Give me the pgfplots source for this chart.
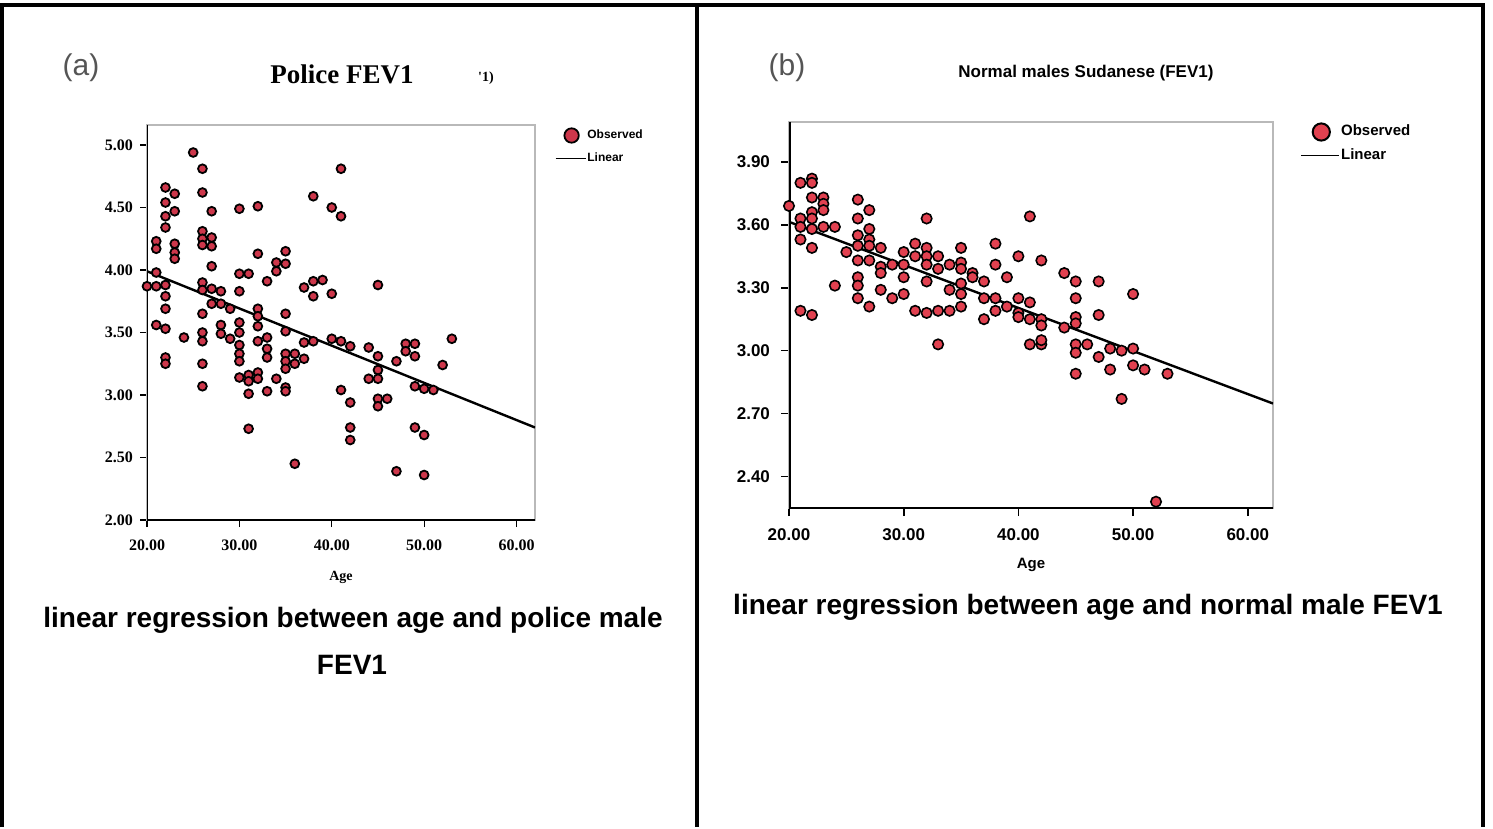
\documentclass[border=0pt]{standalone}
\usepackage{pgfplots}
\pgfplotsset{compat=1.18}
\usepackage{fontspec}
\setmainfont{Liberation Sans}
\newfontfamily\serifb{Liberation Serif}
\definecolor{ptred}{RGB}{205,55,75}
\definecolor{ptred2}{RGB}{225,65,80}
\definecolor{lbl}{RGB}{85,85,85}

\pgfplotstableread{
age fev
25 4.94
26 4.81
22 4.66
23 4.61
26 4.62
22 4.54
23 4.47
27 4.47
22 4.43
22 4.34
30 4.49
32 4.51
38 4.59
40 4.50
41 4.81
41 4.43
21 4.23
21 4.17
23 4.21
23 4.14
23 4.09
26 4.31
26 4.25
26 4.20
27 4.26
27 4.19
27 4.03
32 4.13
35 4.15
35 4.05
34 4.06
34 3.99
30 3.97
31 3.97
33 3.91
37 3.86
38 3.91
39 3.92
38 3.79
40 3.81
20 3.87
21 3.87
22 3.88
21 3.98
22 3.79
22 3.69
26 3.90
26 3.84
27 3.85
28 3.83
30 3.83
27 3.73
28 3.73
29 3.69
26 3.65
32 3.69
32 3.63
35 3.65
21 3.56
22 3.53
24 3.46
26 3.50
26 3.43
28 3.56
28 3.49
29 3.45
30 3.58
30 3.50
30 3.40
30 3.33
30 3.27
32 3.55
35 3.51
32 3.43
33 3.46
33 3.37
33 3.30
34 3.13
35 3.33
36 3.33
35 3.27
36 3.25
37 3.29
35 3.21
37 3.42
38 3.43
40 3.45
41 3.43
22 3.30
22 3.25
26 3.25
26 3.07
30 3.14
31 3.16
32 3.18
31 3.11
32 3.13
31 3.01
33 3.03
35 3.06
35 3.03
41 3.04
31 2.73
36 2.45
45 3.88
42 3.39
44 3.38
45 3.31
45 3.20
45 3.13
44 3.13
47 3.27
48 3.41
49 3.41
48 3.35
49 3.31
53 3.45
52 3.24
49 3.07
50 3.05
51 3.04
42 2.94
45 2.97
46 2.97
45 2.91
42 2.74
42 2.64
49 2.74
50 2.68
47 2.39
50 2.36
}\policedata

\pgfplotstableread{
age fev
20 3.69
21 3.80
22 3.82
22 3.80
22 3.73
23 3.73
23 3.70
23 3.67
22 3.66
21 3.63
21 3.59
21 3.53
22 3.63
22 3.58
22 3.49
23 3.59
24 3.59
24 3.31
21 3.19
22 3.17
26 3.72
27 3.67
26 3.63
26 3.55
27 3.58
27 3.53
26 3.50
27 3.50
25 3.47
26 3.43
27 3.43
28 3.49
26 3.35
26 3.31
26 3.25
27 3.21
28 3.40
28 3.37
28 3.29
29 3.41
29 3.25
30 3.47
30 3.41
30 3.35
30 3.27
31 3.51
31 3.45
32 3.63
32 3.49
32 3.45
32 3.41
32 3.33
33 3.45
33 3.39
34 3.41
34 3.29
35 3.49
35 3.42
35 3.39
35 3.32
35 3.27
36 3.37
36 3.35
37 3.33
38 3.51
38 3.41
39 3.35
40 3.45
41 3.64
31 3.19
32 3.18
33 3.19
34 3.19
35 3.21
37 3.25
38 3.25
39 3.21
40 3.25
40 3.18
41 3.23
33 3.03
37 3.15
38 3.19
40 3.16
41 3.15
41 3.03
42 3.43
44 3.37
45 3.33
47 3.33
45 3.25
50 3.27
47 3.17
42 3.15
42 3.12
44 3.11
45 3.16
45 3.13
42 3.03
42 3.05
45 3.03
46 3.03
45 2.99
47 2.97
48 3.01
49 3.00
50 3.01
48 2.91
50 2.93
51 2.91
53 2.89
45 2.89
49 2.77
52 2.28
}\normaldata

\begin{document}
\begin{tikzpicture}
\begin{scope}[x=0.5pt,y=-0.5pt]
\path (0,0) rectangle (1493,827);
\draw[line width=2pt] (2,827) -- (2,5) -- (1483,5) -- (1483,827);
\draw[line width=2pt] (697,5) -- (697,827);
\node[text=lbl, font=\fontsize{15}{18}\selectfont] at (81,68) {(a)};
\node[text=lbl, font=\fontsize{15}{18}\selectfont] at (787,68) {(b)};
\node[font=\serifb\bfseries\fontsize{13.5}{16}\selectfont] at (342,74) {Police FEV1};
\node[font=\serifb\bfseries\fontsize{7}{8}\selectfont] at (486,78) {'1)};
\node[font=\bfseries\fontsize{8.5}{10}\selectfont] at (1086,73) {Normal males Sudanese (FEV1)};
\node[font=\bfseries\fontsize{14}{17}\selectfont] at (353,620) {linear regression between age and police male};
\node[font=\bfseries\fontsize{14}{17}\selectfont] at (352,665) {FEV1};
\node[font=\bfseries\fontsize{14}{17}\selectfont] at (1088,607) {linear regression between age and normal male FEV1};
\end{scope}

\begin{axis}[
  at={(73.5pt,-260pt)}, anchor=south west, scale only axis,
  width=194pt, height=197.5pt,
  xmin=20, xmax=62, ymin=2, ymax=5.16,
  xtick={20,30,40,50,60}, ytick={2,2.5,3,3.5,4,4.5,5},
  axis line style={draw=gray!55, line width=0.6pt},
  tick align=outside, xtick pos=bottom, ytick pos=left,
  major tick length=3.5pt, tick style={black, line width=0.6pt},
  ticklabel style={font=\serifb\bfseries\fontsize{8}{9}\selectfont},
  xticklabel style={yshift=-3pt},
  /pgf/number format/.cd, fixed, fixed zerofill, precision=2, assume math mode=true,
  /pgfplots/.cd,
  xlabel={Age},
  xlabel style={font=\serifb\bfseries\fontsize{7}{8}\selectfont, at={(axis description cs:0.5,0)}, anchor=center, yshift=-28.5pt},
  legend style={at={(rel axis cs:1.05,1.0)}, anchor=north west, draw=none, fill=none,
    font=\bfseries\fontsize{6}{7}\selectfont, inner sep=0pt, row sep=4pt,
    /tikz/every even column/.append style={column sep=0pt},
    nodes={inner sep=0.5pt}, yshift=-1pt},
  legend cell align=left,
]
\addplot[only marks, mark=*, mark size=2.2pt, mark options={fill=ptred, draw=black, line width=0.9pt},
  legend image code/.code={\path[draw=none] (0,0) -- (15pt,0); \draw[fill=ptred, line width=0.9pt] (8pt,0) circle (3.6pt);}]
  table[x=age, y=fev] {\policedata};
\addlegendentry{Observed}
\addplot[black, line width=1.2pt, no marks,
  legend image code/.code={\draw[line width=0.8pt] (0,0) -- (15pt,0);}]
  coordinates {(20,3.99) (62,2.74)};
\addlegendentry{Linear}
\draw[black, line width=1pt] (rel axis cs:0,1) -- (rel axis cs:0,0) -- (rel axis cs:1,0);
\end{axis}

\begin{axis}[
  at={(394.5pt,-254pt)}, anchor=south west, scale only axis,
  width=242pt, height=193pt,
  xmin=20, xmax=62.2, ymin=2.25, ymax=4.09,
  xtick={20,30,40,50,60}, ytick={2.4,2.7,3.0,3.3,3.6,3.9},
  axis line style={draw=gray!55, line width=0.6pt},
  tick align=outside, xtick pos=bottom, ytick pos=left,
  major tick length=4pt, tick style={black, line width=0.8pt},
  ticklabel style={font=\bfseries\fontsize{8.5}{10}\selectfont},
  yticklabel style={xshift=-2pt},
  xticklabel style={yshift=-3pt},
  /pgf/number format/.cd, fixed, fixed zerofill, precision=2, assume math mode=true,
  /pgfplots/.cd,
  xlabel={Age},
  xlabel style={font=\bfseries\fontsize{7.5}{9}\selectfont, at={(axis description cs:0.5,0)}, anchor=center, yshift=-28.5pt},
  legend style={at={(rel axis cs:1.056,1.0)}, anchor=north west, draw=none, fill=none,
    font=\bfseries\fontsize{7.5}{9}\selectfont, inner sep=0pt, row sep=3pt,
    /tikz/every even column/.append style={column sep=0pt},
    nodes={inner sep=0.5pt}},
  legend cell align=left,
]
\addplot[only marks, mark=*, mark size=2.6pt, mark options={fill=ptred2, draw=black, line width=0.8pt},
  legend image code/.code={\path[draw=none] (0,0) -- (19pt,0); \draw[fill=ptred2, line width=1pt] (10pt,0) circle (4.3pt);}]
  table[x=age, y=fev] {\normaldata};
\addlegendentry{Observed}
\addplot[black, line width=1.2pt, no marks,
  legend image code/.code={\draw[line width=0.8pt] (0,0) -- (19pt,0);}]
  coordinates {(20,3.614) (62.2,2.748)};
\addlegendentry{Linear}
\draw[black, line width=1.5pt] (rel axis cs:0,1) -- (rel axis cs:0,0) -- (rel axis cs:1,0);
\end{axis}
\end{tikzpicture}
\end{document}
